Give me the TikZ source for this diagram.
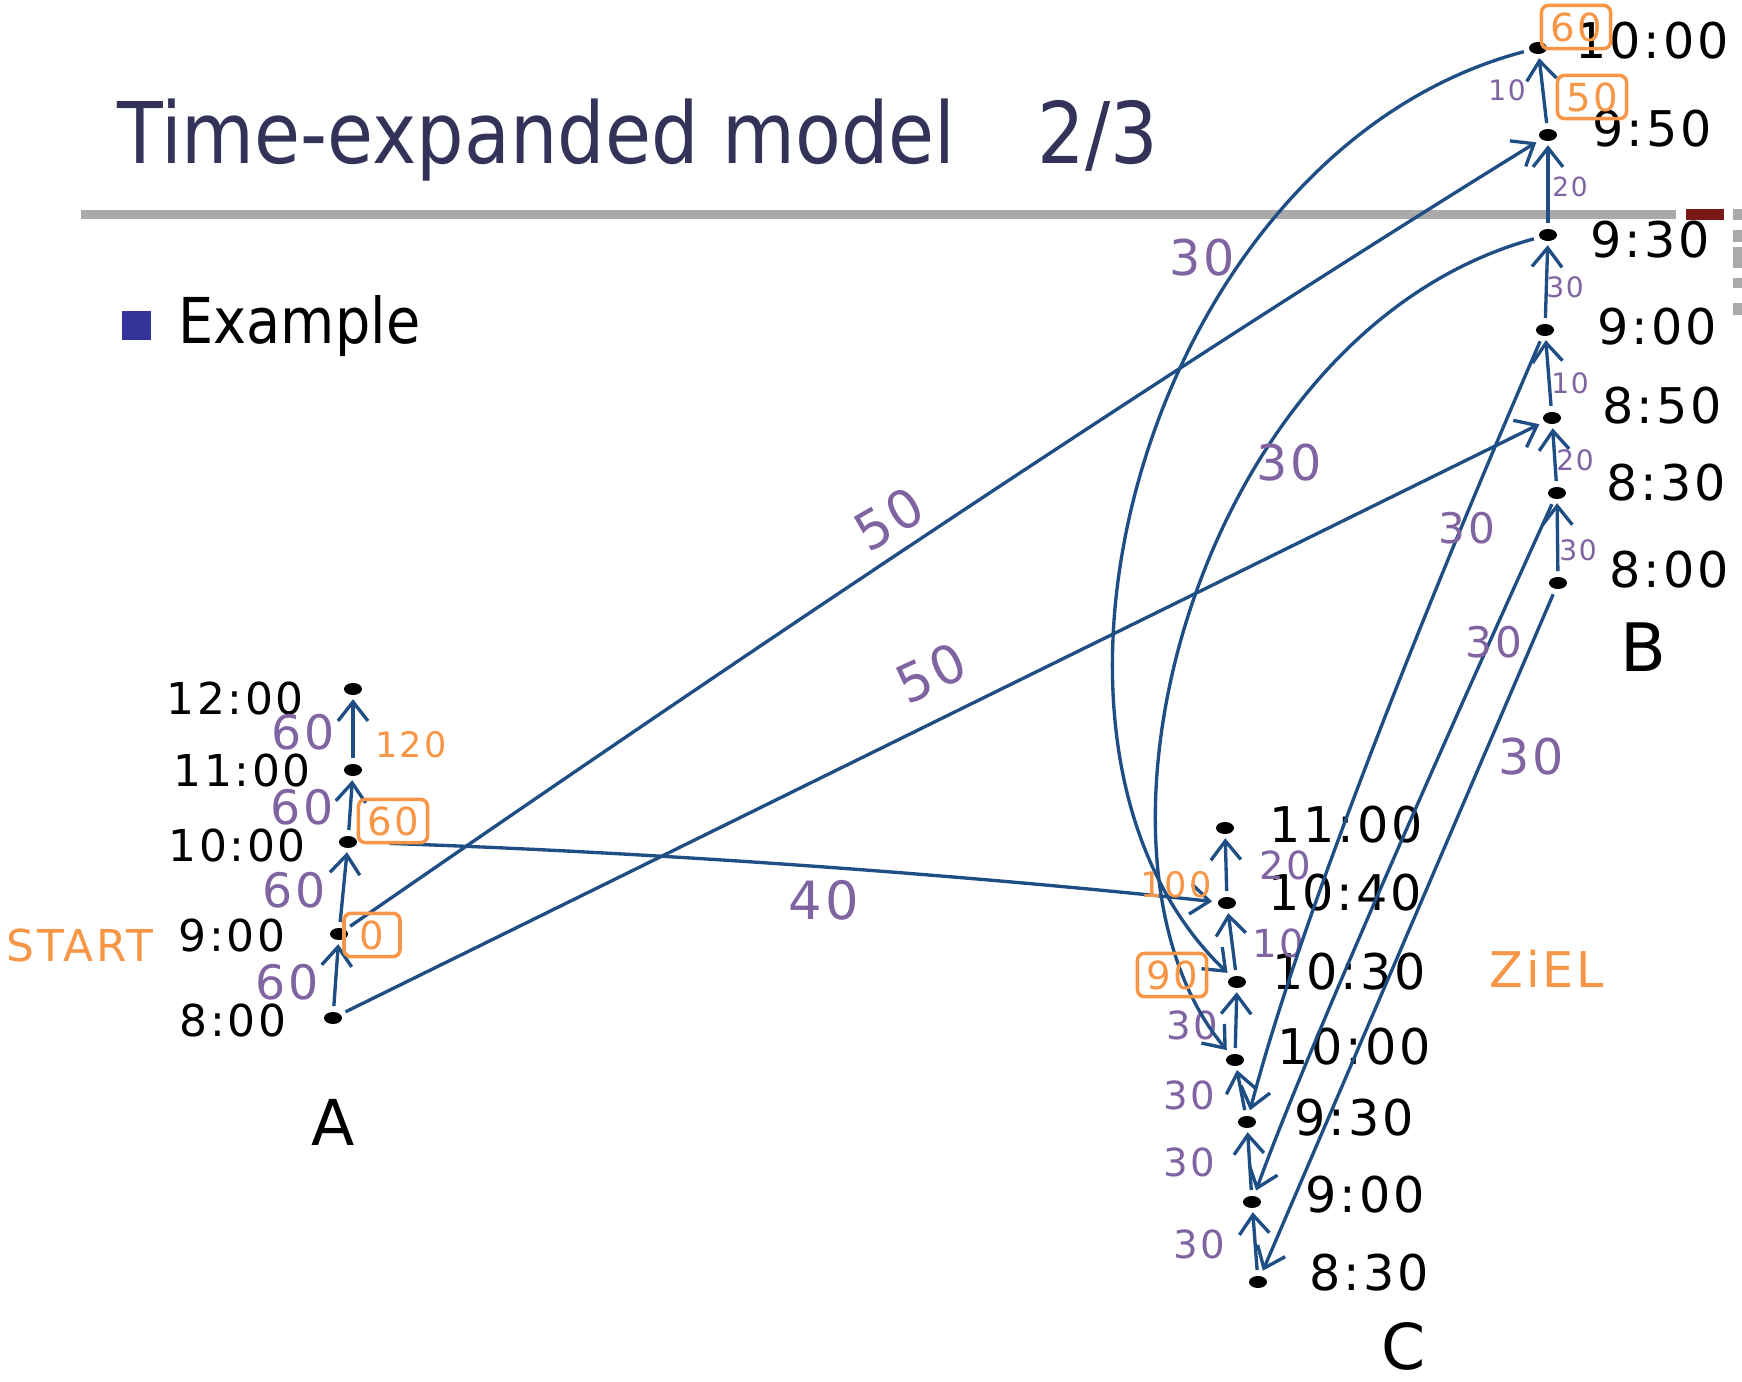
\documentclass[tikz,border=0pt]{standalone}
\usepackage{fontspec}
\setmainfont{DejaVu Sans}
\newfontfamily\slidefont[FakeStretch=0.88]{DejaVu Sans}
\newfontfamily\handfont[LetterSpace=6]{DejaVu Sans}
\usetikzlibrary{arrows.meta, shapes.geometric}

\definecolor{linkblue}{HTML}{1F4E84}
\definecolor{costpurple}{HTML}{8064A2}
\definecolor{distorange}{HTML}{F79646}
\definecolor{titlenavy}{HTML}{33335A}
\definecolor{bulletblue}{HTML}{333399}
\definecolor{rulegray}{HTML}{AAAAAA}
\definecolor{rulered}{HTML}{7B1818}

\begin{document}
\begin{tikzpicture}[
    x=0.1mm, y=-0.1mm,
    event/.style={ellipse, fill=black, inner sep=0pt, minimum width=1.8mm, minimum height=1.2mm},
    clock/.style={font=\handfont\fontsize{#1}{#1}\selectfont},
    clock/.default=14,
    cost/.style={text=costpurple, font=\handfont\fontsize{#1}{#1}\selectfont},
    cost/.default=11,
    note/.style={text=distorange, font=\handfont\fontsize{#1}{#1}\selectfont},
    note/.default=10,
    dist/.style={draw=distorange, text=distorange, line width=1pt, rounded corners=2pt, inner xsep=2.5pt, inner ysep=2pt, minimum height=4.3mm, font=\handfont\fontsize{11}{11}\selectfont},
    wait/.style={draw=linkblue, line width=0.95pt, -{Straight Barb[length=1.9mm, width=3mm]}, shorten <=1.5pt, shorten >=1pt},
    ride/.style={wait, shorten >=1.5pt},
]

\useasboundingbox (0,0) rectangle (1742,1382);
\fill[white] (0,0) rectangle (1742,1382);

% Slide header
\node[anchor=base west, inner sep=0pt, text=titlenavy, font=\slidefont\fontsize{24.2}{29}\selectfont] (title) at (117,164) {Time-expanded model\hspace{8.2mm}2/3};
\fill[rulegray] (81,210) rectangle (1676,219);
\fill[rulered] (1686,209) rectangle (1724,220);
\fill[rulegray] (1733,209) rectangle (1742,220);
\foreach \ya/\yb in {230/242, 247/268, 278/288, 303/315}
  \fill[rulegray] (1733,\ya) rectangle (1742,\yb);

% Bullet
\fill[bulletblue] (122,311) rectangle (151,340);
\node[anchor=base west, inner sep=0pt, font=\slidefont\fontsize{18}{22}\selectfont] (example) at (178,344) {Example};

% Station A
\node[event] (a8) at (333,1018) {};
\node[event] (a9) at (339,934) {};
\node[event] (a10) at (348,842) {};
\node[event] (a11) at (353,770) {};
\node[event] (a12) at (353,689) {};
\node[clock=12.5] at (235,699) {12:00};
\node[clock=12.5] at (242,771) {11:00};
\node[clock=12.5] at (237,846) {10:00};
\node[clock=12.5] at (232,936) {9:00};
\node[clock=12.5] at (233,1021) {8:00};
\node[clock=18] (nameA) at (333,1122) {A};
\node[note=12.5] (start) at (80,946) {START};

% Station B
\node[event] (b800) at (1558,583) {};
\node[event] (b830) at (1557,493) {};
\node[event] (b850) at (1552,418) {};
\node[event] (b900) at (1545,330) {};
\node[event] (b930) at (1548,235) {};
\node[event] (b950) at (1548,135) {};
\node[event] (b1000) at (1538,48) {};
\node[clock] at (1652,41) {10:00};
\node[clock] at (1652,129) {9:50};
\node[clock] at (1650,240) {9:30};
\node[clock] at (1657,327) {9:00};
\node[clock] at (1662,406) {8:50};
\node[clock] at (1666,483) {8:30};
\node[clock] at (1669,570) {8:00};
\node[clock=19] (nameB) at (1643,647) {B};

% Station C
\node[event] (c830) at (1258,1282) {};
\node[event] (c900) at (1252,1202) {};
\node[event] (c930) at (1247,1122) {};
\node[event] (c1000) at (1235,1060) {};
\node[event] (c1030) at (1237,982) {};
\node[event] (c1040) at (1227,903) {};
\node[event] (c1100) at (1225,828) {};
\node[clock] at (1346,825) {11:00};
\node[clock] at (1345,893) {10:40};
\node[clock] at (1349,972) {10:30};
\node[clock] at (1354,1047) {10:00};
\node[clock] at (1354,1118) {9:30};
\node[clock] at (1365,1195) {9:00};
\node[clock] at (1369,1273) {8:30};
\node[clock=18] (nameC) at (1404,1346) {C};
\node[note=14] (ziel) at (1547,969) {ZiEL};

% Waiting arcs
\foreach \lo/\hi in {a8/a9, a9/a10, a10/a11, a11/a12,
                     b800/b830, b830/b850, b850/b900, b900/b930, b930/b950, b950/b1000,
                     c830/c900, c900/c930, c930/c1000, c1000/c1030, c1030/c1040, c1040/c1100}
  \draw[wait] (\lo) -- (\hi);

\node[cost=13.5] at (303,732) {60};
\node[cost=13.5] at (302,807) {60};
\node[cost=13.5] at (294,890) {60};
\node[cost=13.5] at (287,982) {60};

\node[cost=8] at (1507,90) {10};
\node[cost=7.5] at (1570,187) {20};
\node[cost=8] at (1565,287) {30};
\node[cost=8] at (1570,383) {10};
\node[cost=8] at (1575,460) {20};
\node[cost=8] at (1578,550) {30};

\node[cost] at (1285,865) {20};
\node[cost] at (1278,943) {10};
\node[cost] at (1192,1025) {30};
\node[cost] at (1189,1095) {30};
\node[cost] at (1189,1162) {30};
\node[cost] at (1199,1244) {30};

% Train arcs
\draw[ride] (a9) .. controls (742,655) and (1160,375) .. (b950);
\draw[ride] (a8) -- (b850);
\draw[ride, shorten <=9pt] (a10) .. controls (641,852) and (934,872) .. (c1040);
\draw[ride] (b1000) .. controls (1150,150) and (985,740) .. (c1030);
\draw[ride] (b930) .. controls (1200,330) and (1060,850) .. (c1000);
\draw[ride] (b900) .. controls (1480,480) and (1310,880) .. (c930);
\draw[ride] (b830) .. controls (1490,640) and (1310,1040) .. (c900);
\draw[ride] (b800) -- (c830);

\node[cost=15, rotate=30] at (889,519) {50};
\node[cost=15, rotate=25] at (931,673) {50};
\node[cost=15] at (824,900) {40};
\node[cost=14] at (1202,258) {30};
\node[cost=14] at (1289,463) {30};
\node[cost=12] at (1467,528) {30};
\node[cost=12] at (1494,642) {30};
\node[cost=14] at (1531,757) {30};

% Distances
\node[note] at (411,745) {120};
\node[dist] at (393,821) {60};
\node[dist, minimum width=5.6mm] at (372,935) {0};
\node[dist, minimum height=3.3mm] at (1576,27) {60};
\node[dist] at (1592,97) {50};
\node[note] at (1176,885) {100};
\node[dist] at (1172,975) {90};

\end{tikzpicture}
\end{document}
